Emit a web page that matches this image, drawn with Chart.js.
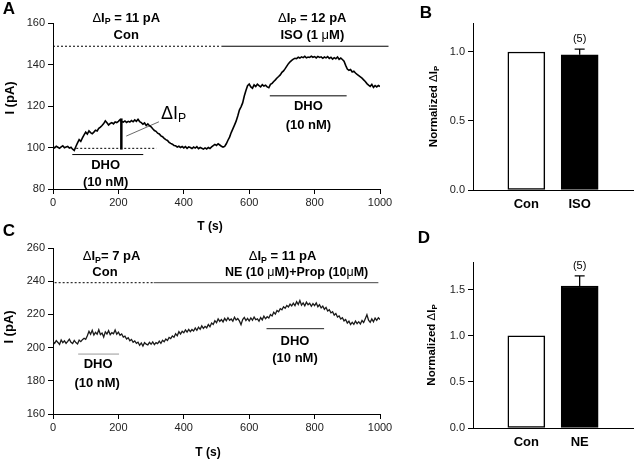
<!DOCTYPE html>
<html><head><meta charset="utf-8">
<script src="https://cdn.jsdelivr.net/npm/chart.js@4/dist/chart.umd.min.js"></script>
<style>
html,body{margin:0;padding:0;background:#fff;}
#wrap{position:relative;width:640px;height:460px;overflow:hidden;background:#fff;}
canvas{position:absolute;}
</style></head><body>
<div id="wrap">
<canvas id="cA" width="400" height="240" style="left:0px;top:0px;width:400px;height:240px"></canvas>
<canvas id="cB" width="240" height="230" style="left:400px;top:0px;width:240px;height:230px"></canvas>
<canvas id="cC" width="400" height="240" style="left:0px;top:220px;width:400px;height:240px"></canvas>
<canvas id="cD" width="240" height="240" style="left:400px;top:220px;width:240px;height:240px"></canvas>
</div>
<script>
// ---------------- DATA ----------------
const sampleIntervalS = 5; // seconds between trace samples
const timeTicks = [0, 200, 400, 600, 800, 1000];

// Panel A: current trace (pA), one sample every 5 s from 0 to 1000 s
const traceA = [
 100.4, 99.8, 100.6, 100.1, 99.6, 100.3, 100.8, 99.9, 100.2, 100.5, 99.7, 100.1, 99.2,
 98.6, 100.5, 102.2, 103.8, 103.0, 104.6, 106.1, 107.4,
 106.5, 108.0, 107.2, 106.6, 107.4, 108.3, 108.0, 109.2, 109.8, 110.6, 111.5, 112.8, 111.9, 110.8, 111.6, 112.0, 111.4, 112.3, 112.0, 112.6,
 113.4, 112.5, 112.2, 112.8, 112.1, 112.6, 112.3, 113.0, 112.4, 113.3, 112.6, 113.6, 112.5, 112.0, 111.2, 111.8, 110.6, 111.4, 110.5, 110.0,
 109.0, 108.2, 107.8, 106.9, 106.5, 105.6, 105.2, 104.4, 103.8, 103.4, 102.5, 102.0, 101.6, 101.0, 100.8, 100.2, 100.6, 100.0, 100.5, 99.8,
 100.4, 99.6, 100.3, 100.0, 99.5, 100.2, 99.7, 100.4, 99.4, 100.0, 99.6, 99.2, 99.8, 99.3, 100.0, 99.5, 100.3, 100.9, 101.5, 101.0,
 101.8, 101.2, 100.6, 100.2, 100.5, 101.8, 103.5, 105.0, 107.2, 109.0, 110.8, 112.7, 115.2, 118.0, 119.6, 121.5, 124.8, 127.5, 129.8, 130.6,
 129.2, 128.6, 130.2, 129.4, 130.5, 129.8, 129.2, 130.3, 129.6, 130.0, 129.2, 128.8, 130.4, 130.9, 131.8, 132.6, 133.5, 134.2, 135.0, 136.2,
 136.9, 138.0, 139.2, 140.4, 141.3, 142.0, 142.6, 143.0, 142.8, 143.5, 143.1, 143.7, 143.3, 143.9, 143.2, 143.6, 143.4, 144.0, 143.5, 143.8,
 143.2, 143.9, 143.4, 143.7, 143.0, 143.6, 143.2, 143.8, 142.9, 143.5, 142.6, 143.3, 142.8, 143.6, 142.5, 143.1, 142.4, 141.6, 139.6, 137.8,
 137.2, 137.6, 136.4, 136.8, 135.9, 135.2, 134.6, 134.0, 133.4, 132.6, 131.8, 130.8, 130.1, 129.5, 130.4, 129.0, 129.8, 129.2, 129.9, 129.4
];
// Panel C: current trace (pA), one sample every 5 s from 0 to 1000 s
const traceC = [
 203.8, 202.6, 204.2, 203.1, 201.9, 204.6, 203.0, 204.1, 202.5, 203.7, 205.0, 203.2, 202.4, 204.3, 203.0, 202.2, 204.5, 203.6, 204.8, 205.6,
 205.0, 207.2, 209.8, 208.0, 210.4, 207.6, 209.2, 208.1, 210.8, 207.9, 208.8, 206.4, 209.5, 208.2, 210.2, 207.8, 209.0, 208.3, 210.6, 208.1,
 209.3, 207.4, 208.2, 206.3, 206.9, 205.2, 206.0, 204.1, 204.9, 203.2, 204.0, 202.6, 203.3, 201.4, 202.8, 200.9, 203.0, 202.1, 201.6, 203.2,
 202.0, 203.4, 201.8, 203.0, 202.4, 203.9, 202.6, 204.4, 203.5, 205.2, 204.3, 206.1, 205.4, 207.0, 206.2, 208.3, 207.1, 209.6, 208.2, 209.8,
 208.9, 210.7, 209.4, 211.0, 209.6, 210.9, 210.0, 211.8, 210.4, 212.3, 211.0, 213.1, 211.6, 212.8, 211.9, 213.9, 212.6, 214.8, 213.9, 216.2,
 215.0, 217.3, 215.8, 216.9, 215.5, 217.6, 216.2, 218.0, 216.4, 217.2, 215.9, 218.3, 216.6, 217.5, 216.1, 213.8, 216.9, 218.2, 216.3, 217.6,
 216.0, 217.9, 216.5, 218.4, 216.8, 217.3, 215.9, 218.1, 216.7, 219.0, 217.4, 218.6, 217.8, 219.9, 219.1, 221.3, 220.2, 222.4, 221.6, 223.5,
 222.8, 224.6, 223.7, 225.4, 224.5, 226.2, 225.1, 226.8, 225.3, 227.6, 225.9, 228.3, 225.6, 226.9, 225.2, 227.4, 225.8, 226.7, 224.9, 226.5,
 225.3, 226.9, 224.6, 225.8, 223.9, 225.0, 223.1, 224.2, 222.0, 222.8, 220.9, 221.6, 219.6, 220.5, 218.4, 219.1, 217.2, 218.0, 216.1, 216.9,
 214.8, 215.9, 213.9, 215.2, 214.0, 216.0, 214.4, 215.6, 214.2, 216.3, 215.1, 217.4, 219.8, 216.5, 215.2, 217.3, 215.6, 217.8, 216.4, 218.0,
 216.9
];
const yTicksA = [80, 100, 120, 140, 160];
const yTicksC = [160, 180, 200, 220, 240, 260];

// Protocol bars (time from, time to, level)
const aControlDotted = [0, 510, 148.8];
const aDrugSolid     = [515, 1026, 148.8];
const aDho1          = [59, 276, 96.6];
const aDho2          = [663, 898, 124.9];
const aBaseline      = [71, 316, 99.6];
const aDeltaBar      = [209, 99, 114];      // time, from, to
const aLeader        = [224, 105.5, 324, 112.4];

const cControlDotted = [5, 306, 239.1];
const cDrugSolid     = [308, 995, 239.1];
const cDho1          = [77, 202, 196.1];
const cDho2          = [653, 829, 211.4];

// Panels B and D: normalized ΔIp
const barCategoriesB = ['Con', 'ISO'];
const barMeansB = [1.0, 0.98];
const barErrB   = [0, 0.04];
const barNB     = ['', '(5)'];
const yTicksB   = [0.0, 0.5, 1.0];

const barCategoriesD = ['Con', 'NE'];
const barMeansD = [1.0, 1.54];
const barErrD   = [0, 0.11];
const barND     = ['', '(5)'];
const yTicksD   = [0.0, 0.5, 1.0, 1.5];

// ---------------- DRAWING HELPERS ----------------
const FONT = "'Liberation Sans', Arial, Helvetica, sans-serif";
const fnt = (s, b) => (b ? 'bold ' : '') + s + 'px ' + FONT;
const DI = [{t: 'Δ', reg: true}, {t: 'I'}, {t: 'P', sub: true}];

function drawParts(ctx, parts, x, y, size, bold) {
  let w = 0; const ws = [];
  for (const p of parts) {
    ctx.font = fnt(p.sub ? size * 0.68 : size, bold && !p.reg);
    const m = ctx.measureText(p.t).width; ws.push(m); w += m;
  }
  let cx = x - w / 2;
  ctx.textAlign = 'left'; ctx.textBaseline = 'middle';
  parts.forEach((p, i) => {
    ctx.font = fnt(p.sub ? size * 0.68 : size, bold && !p.reg);
    ctx.fillText(p.t, cx, y + (p.sub ? size * 0.28 : 0));
    cx += ws[i];
  });
}

function notesPlugin(dataNotes, pxNotes) {
  return {
    id: 'notes',
    afterDraw(chart) {
      const ctx = chart.ctx, xs = chart.scales.x, ys = chart.scales.y, ca = chart.chartArea;
      ctx.save(); ctx.fillStyle = '#000';
      for (const n of dataNotes) {
        drawParts(ctx, n.parts, xs.getPixelForValue(n.x), ys.getPixelForValue(n.y), n.size || 13, n.bold !== false);
      }
      for (const n of pxNotes) {
        const y = n.yc ? (ca.top + ca.bottom) / 2 : n.y;
        if (n.rot) {
          ctx.save(); ctx.translate(n.x, y); ctx.rotate(-Math.PI / 2);
          drawParts(ctx, n.parts, 0, 0, n.size, n.bold !== false);
          ctx.restore();
        } else {
          drawParts(ctx, n.parts, n.x, y, n.size, n.bold !== false);
        }
      }
      ctx.restore();
    }
  };
}

function seg(x0, x1, y0, y1, color, width, dash) {
  return {
    data: [{x: x0, y: y0}, {x: x1, y: y1}],
    borderColor: color, borderWidth: width, borderDash: dash || [],
    pointRadius: 0, fill: false, tension: 0, clip: false
  };
}
function hseg(a, color, width, dash) { return seg(a[0], a[1], a[2], a[2], color, width, dash); }

function linScale(min, max, ticksArr, W, H, area, isX, fmt, tickPad) {
  return {
    type: 'linear', min, max,
    afterBuildTicks: s => { s.ticks = ticksArr.map(v => ({value: v})); },
    afterFit: s => { if (isX) s.height = H - area.b; else s.width = area.l; },
    grid: {display: true, drawOnChartArea: false, drawTicks: true, tickLength: 5, color: '#000', lineWidth: 1},
    border: {display: true, color: '#000', width: 1},
    ticks: {font: {family: FONT, size: 11}, color: '#222', padding: tickPad, callback: fmt, maxRotation: 0, autoSkip: false}
  };
}

function traceChart(id, W, H, area, trace, yMin, yMax, yTicks, segs, dataNotes, pxNotes, traceColor, traceWidth) {
  const pts = trace.map((v, i) => ({x: i * sampleIntervalS, y: v}));
  new Chart(document.getElementById(id), {
    type: 'line',
    data: {datasets: [
      {data: pts, borderColor: traceColor, borderWidth: traceWidth, pointRadius: 0, tension: 0, fill: false},
      ...segs
    ]},
    options: {
      responsive: false, animation: false, events: [],
      layout: {padding: {left: 0, top: area.t, right: W - area.r, bottom: 0}},
      plugins: {legend: {display: false}, tooltip: {enabled: false}},
      scales: {
        x: linScale(0, 1000, timeTicks, W, H, area, true, v => String(v), 2),
        y: linScale(yMin, yMax, yTicks, W, H, area, false, v => String(v), 3)
      }
    },
    plugins: [notesPlugin(dataNotes, pxNotes)]
  });
}

function errPlugin(means, errs, ns) {
  return {
    id: 'err',
    afterDatasetsDraw(chart) {
      const meta = chart.getDatasetMeta(0), ys = chart.scales.y, ctx = chart.ctx;
      ctx.save();
      means.forEach((m, i) => {
        const x = meta.data[i + 1].x;
        if (errs[i]) {
          const y0 = ys.getPixelForValue(m), y1 = ys.getPixelForValue(m + errs[i]);
          ctx.strokeStyle = '#000'; ctx.lineWidth = 1.3;
          ctx.beginPath(); ctx.moveTo(x, y0); ctx.lineTo(x, y1);
          ctx.moveTo(x - 5, y1); ctx.lineTo(x + 5, y1); ctx.stroke();
          if (ns[i]) {
            ctx.fillStyle = '#000';
            drawParts(ctx, [{t: ns[i]}], x, y1 - 10, 11, false);
          }
        }
      });
      ctx.restore();
    }
  };
}

function barChart(id, W, H, area, cats, means, errs, ns, yMax, yTicks, pxNotes) {
  const labels = ['', ...cats, ''];
  const vals = [null, ...means, null];
  new Chart(document.getElementById(id), {
    type: 'bar',
    data: {labels, datasets: [{
      data: vals,
      backgroundColor: ['#fff', '#fff', '#000', '#fff'],
      borderColor: '#000', borderWidth: 1.5, borderSkipped: false,
      barThickness: 37
    }]},
    options: {
      responsive: false, animation: false, events: [],
      layout: {padding: {left: 0, top: area.t, right: W - area.r, bottom: 0}},
      plugins: {legend: {display: false}, tooltip: {enabled: false}},
      scales: {
        x: {
          type: 'category', offset: false,
          afterFit: s => { s.height = H - area.b; },
          grid: {display: false, drawTicks: false},
          border: {display: true, color: '#000', width: 1},
          ticks: {font: {family: FONT, size: 13, weight: 'bold'}, color: '#000', padding: 7, maxRotation: 0, autoSkip: false}
        },
        y: {
          type: 'linear', min: 0, max: yMax,
          afterBuildTicks: s => { s.ticks = yTicks.map(v => ({value: v})); },
          afterFit: s => { s.width = area.l; },
          grid: {display: true, drawOnChartArea: false, drawTicks: true, tickLength: 5, color: '#000'},
          border: {display: true, color: '#000', width: 1},
          ticks: {font: {family: FONT, size: 11}, color: '#222', padding: 3, callback: v => v.toFixed(1)}
        }
      }
    },
    plugins: [errPlugin(means, errs, ns), notesPlugin([], pxNotes)]
  });
}

// ---------------- PANEL A ----------------
traceChart('cA', 400, 240, {l: 53, t: 23, r: 380, b: 189}, traceA, 80, 160, yTicksA,
  [
    hseg(aControlDotted, '#000', 1, [2, 2]),
    hseg(aDrugSolid, '#000', 1),
    hseg(aDho1, '#000', 1),
    hseg(aDho2, '#000', 1),
    hseg(aBaseline, '#000', 1, [2, 2]),
    seg(aDeltaBar[0], aDeltaBar[0], aDeltaBar[1], aDeltaBar[2], '#000', 2.5),
    seg(aLeader[0], aLeader[2], aLeader[1], aLeader[3], '#444', 0.8)
  ],
  [
    {x: 224, y: 162.3, parts: [...DI, {t: ' = 11 pA'}]},
    {x: 224, y: 154.2, parts: [{t: 'Con'}]},
    {x: 793, y: 162.3, parts: [...DI, {t: ' = 12 pA'}]},
    {x: 793, y: 154.2, parts: [{t: 'ISO (1 '}, {t: 'μ', reg: true}, {t: 'M)'}]},
    {x: 161, y: 91.6, parts: [{t: 'DHO'}]},
    {x: 161, y: 83.0, parts: [{t: '(10 nM)'}]},
    {x: 781, y: 119.7, parts: [{t: 'DHO'}]},
    {x: 781, y: 110.4, parts: [{t: '(10 nM)'}]},
    {x: 369, y: 116.3, parts: [{t: 'Δ'}, {t: 'I'}, {t: 'P', sub: true}], size: 18, bold: false}
  ],
  [
    {x: 9, y: 9, parts: [{t: 'A'}], size: 17},
    {x: 10, y: 98, parts: [{t: 'I (pA)'}], size: 13, rot: true},
    {x: 210, y: 227, parts: [{t: 'T (s)'}], size: 12}
  ], '#000', 1.6);

// ---------------- PANEL B ----------------
barChart('cB', 240, 230, {l: 73, t: 23, r: 238, b: 190}, barCategoriesB, barMeansB, barErrB, barNB, 1.21, yTicksB,
  [
    {x: 26, y: 13, parts: [{t: 'B'}], size: 17},
    {x: 34, yc: true, parts: [{t: 'Normalized '}, ...DI], size: 11.5, rot: true}
  ]);

// ---------------- PANEL C ----------------
traceChart('cC', 400, 240, {l: 53, t: 28, r: 380, b: 194}, traceC, 160, 260, yTicksC,
  [
    hseg(cControlDotted, '#000', 1, [2, 2]),
    hseg(cDrugSolid, '#444', 1),
    hseg(cDho1, '#999', 1),
    hseg(cDho2, '#222', 1)
  ],
  [
    {x: 179, y: 254.8, parts: [...DI, {t: '= 7 pA'}]},
    {x: 159, y: 245.1, parts: [{t: 'Con'}]},
    {x: 702, y: 254.8, parts: [...DI, {t: ' = 11 pA'}]},
    {x: 745, y: 245.1, parts: [{t: 'NE (10 '}, {t: 'μ', reg: true}, {t: 'M)+Prop (10'}, {t: 'μ', reg: true}, {t: 'M)'}], size: 12.5},
    {x: 138, y: 189.9, parts: [{t: 'DHO'}]},
    {x: 135, y: 178.5, parts: [{t: '(10 nM)'}]},
    {x: 740, y: 204.0, parts: [{t: 'DHO'}]},
    {x: 740, y: 193.6, parts: [{t: '(10 nM)'}]}
  ],
  [
    {x: 9, y: 11, parts: [{t: 'C'}], size: 17},
    {x: 9, y: 107, parts: [{t: 'I (pA)'}], size: 13, rot: true},
    {x: 208, y: 233, parts: [{t: 'T (s)'}], size: 12}
  ], '#1a1a1a', 1.3);

// ---------------- PANEL D ----------------
barChart('cD', 240, 240, {l: 73, t: 42, r: 238, b: 208}, barCategoriesD, barMeansD, barErrD, barND, 1.8, yTicksD,
  [
    {x: 24, y: 18, parts: [{t: 'D'}], size: 17},
    {x: 32, yc: true, parts: [{t: 'Normalized '}, ...DI], size: 11.5, rot: true}
  ]);
</script>
</body></html>
